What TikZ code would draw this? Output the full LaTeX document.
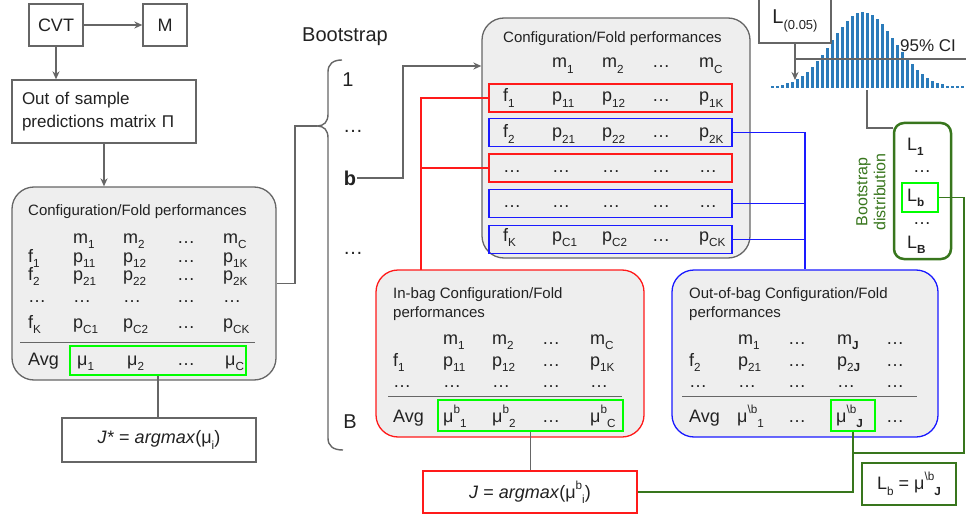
\documentclass[tikz,border=0pt]{standalone}
\usepackage{fontspec}
\setmainfont{Liberation Sans}
\usepackage{graphicx}
\usetikzlibrary{arrows.meta,calc}
\definecolor{tx}{HTML}{222222}
\definecolor{ln}{HTML}{666666}
\definecolor{fillg}{HTML}{EEEEEE}
\definecolor{dgreen}{HTML}{38761D}
\definecolor{bgreen}{HTML}{00FF00}
\definecolor{hblue}{HTML}{2B7BBA}
\definecolor{rd}{HTML}{FF1A1A}
\definecolor{bl}{HTML}{1A1AFF}
\newcommand\sbs[1]{\raisebox{-0.3em}{\scalebox{0.65}{#1}}}
\newcommand\sps[1]{\raisebox{0.5em}{\scalebox{0.65}{#1}}}
\newcommand\fsz[1]{\fontsize{#1}{#1}\selectfont}
\newcommand\cl[4]{\node[cell] (#1) at (#2,#3) {#4};}
\tikzset{
  every node/.style={text=tx},
  plainbox/.style={draw=ln, line width=1.3pt, fill=white, inner sep=0pt},
  graybox/.style={draw=ln, fill=fillg, rounded corners=22pt, line width=1.3pt, inner sep=0pt},
  rowbox/.style={line width=1.1pt, inner sep=0pt, minimum width=243pt, minimum height=28pt},
  greenbox/.style={draw=bgreen, line width=1.5pt, inner sep=0pt},
  cell/.style={anchor=base west, inner sep=0pt, font=\fsz{18}},
  ttl/.style={anchor=base west, inner sep=0pt, font=\fsz{15}},
  conn/.style={draw=ln, line width=1.4pt},
  arr/.style={conn, -{Stealth[length=8pt,width=7pt]}},
  sep/.style={draw=ln, line width=1pt},
}
\begin{document}
\begin{tikzpicture}[x=1pt,y=-1pt]
\useasboundingbox (0,0) rectangle (966,516);

% ---------- left column ----------
\node[plainbox, minimum width=54pt, minimum height=42pt, font=\fsz{18}] (cvt) at (56,25) {CVT};
\node[plainbox, minimum width=44pt, minimum height=42pt, font=\fsz{18}] (m) at (165,25) {M};
\node[plainbox, text width=164pt, inner sep=10pt, minimum height=63pt, align=left, font=\fontsize{17}{23}\selectfont] (out) at (104,111.5) {Out of sample\\predictions matrix Π};
\draw[arr] (cvt.east) -- (m.west);
\draw[arr] (cvt.south) -- (cvt.south |- out.north);

\node[graybox, minimum width=264pt, minimum height=193pt] (L) at (144,283.5) {};
\draw[arr] (out.south) -- (out.south |- L.north);
\node[ttl] (a-title) at (28,215) {Configuration/Fold performances};
\cl{a-m1}{73}{243}{m\sbs{1}}\cl{a-m2}{123}{243}{m\sbs{2}}\cl{a-m3}{177}{243}{…}\cl{a-m4}{223}{243}{m\sbs{C}}
\cl{a-f1}{28}{262}{f\sbs{1}}\cl{a-11}{73}{262}{p\sbs{11}}\cl{a-12}{123}{262}{p\sbs{12}}\cl{a-13}{177}{262}{…}\cl{a-14}{223}{262}{p\sbs{1K}}
\cl{a-f2}{28}{280}{f\sbs{2}}\cl{a-21}{73}{280}{p\sbs{21}}\cl{a-22}{123}{280}{p\sbs{22}}\cl{a-23}{177}{280}{…}\cl{a-24}{223}{280}{p\sbs{2K}}
\cl{a-d0}{28}{302}{…}\cl{a-d1}{73}{302}{…}\cl{a-d2}{123}{302}{…}\cl{a-d3}{177}{302}{…}\cl{a-d4}{223}{302}{…}
\cl{a-fK}{28}{328}{f\sbs{K}}\cl{a-K1}{73}{328}{p\sbs{C1}}\cl{a-K2}{123}{328}{p\sbs{C2}}\cl{a-K3}{177}{328}{…}\cl{a-K4}{223}{328}{p\sbs{CK}}
\cl{a-avg}{28}{365}{Avg}\cl{a-u1}{77}{365}{μ\sbs{1}}\cl{a-u2}{127}{365}{μ\sbs{2}}\cl{a-u3}{177}{365}{…}\cl{a-u4}{225}{365}{μ\sbs{C}}
\coordinate (a-s1) at (20,342); \coordinate (a-s2) at (255,342);
\draw[sep] (a-s1) -- (a-s2);
\node[greenbox, minimum width=176pt, minimum height=29pt] (Lg) at (158,360.5) {};
\node[plainbox, minimum width=194pt, minimum height=44pt, font=\fsz{18}] (Jstar) at (159,440) {\textit{J*} = \textit{argmax}(μ\sbs{i})};
\draw[conn] (Lg.south) -- (Lg.south |- Jstar.north);

% ---------- bootstrap brace ----------
\node[anchor=center, inner sep=0pt, font=\fsz{20}] (boot) at (345,37) {Bootstrap};
\coordinate (brtip) at (317,126);
\draw[conn] (342,60) .. controls (333,60) and (328,64) .. (328,72) -- (328,114)
  .. controls (328,122) and (324,126) .. (brtip)
  .. controls (324,126) and (328,130) .. (328,138) -- (328,438)
  .. controls (328,446) and (333,450) .. (343,450);
\coordinate (bk) at (295,126);
\draw[conn] (L.east) -| (bk) -- (brtip);
\node[inner sep=0pt, font=\fsz{20}] (lab1) at (348,80) {1};
\node[inner sep=0pt, font=\fsz{20}] (labd1) at (353,131) {…};
\node[inner sep=1pt, font=\fsz{20}\bfseries] (labb) at (350,178) {b};
\node[inner sep=0pt, font=\fsz{20}] (labd2) at (353,253) {…};
\node[inner sep=0pt, font=\fsz{20}] (labB) at (350,422) {B};

% ---------- top box ----------
\node[graybox, minimum width=268pt, minimum height=240pt] (T) at (616,138) {};
\coordinate (bturn) at (403,66);
\draw[arr] (labb.east) -| (bturn) -- (bturn -| T.west);
\node[ttl] (t-title) at (503,43) {Configuration/Fold performances};
\node[rowbox, draw=rd] (r1) at (610.5,98) {};
\node[rowbox, draw=bl] (r2) at (610.5,132.5) {};
\node[rowbox, draw=rd] (r3) at (610.5,168) {};
\node[rowbox, draw=bl] (r4) at (610.5,203.5) {};
\node[rowbox, draw=bl] (r5) at (610.5,239.5) {};
\cl{t-m1}{552}{68}{m\sbs{1}}\cl{t-m2}{602}{68}{m\sbs{2}}\cl{t-m3}{652}{68}{…}\cl{t-m4}{699}{68}{m\sbs{C}}
\cl{t-f1}{503}{102}{f\sbs{1}}\cl{t-11}{552}{102}{p\sbs{11}}\cl{t-12}{602}{102}{p\sbs{12}}\cl{t-13}{652}{102}{…}\cl{t-14}{699}{102}{p\sbs{1K}}
\cl{t-f2}{503}{138}{f\sbs{2}}\cl{t-21}{552}{138}{p\sbs{21}}\cl{t-22}{602}{138}{p\sbs{22}}\cl{t-23}{652}{138}{…}\cl{t-24}{699}{138}{p\sbs{2K}}
\cl{t-x0}{503}{172}{…}\cl{t-x1}{552}{172}{…}\cl{t-x2}{602}{172}{…}\cl{t-x3}{652}{172}{…}\cl{t-x4}{699}{172}{…}
\cl{t-y0}{503}{207}{…}\cl{t-y1}{552}{207}{…}\cl{t-y2}{602}{207}{…}\cl{t-y3}{652}{207}{…}\cl{t-y4}{699}{207}{…}
\cl{t-fK}{503}{241}{f\sbs{K}}\cl{t-K1}{552}{241}{p\sbs{C1}}\cl{t-K2}{602}{241}{p\sbs{C2}}\cl{t-K3}{652}{241}{…}\cl{t-K4}{699}{241}{p\sbs{CK}}

% ---------- in-bag ----------
\node[graybox, draw=rd, minimum width=268pt, minimum height=167pt] (I) at (510,353.5) {};
\node[ttl] (i-title1) at (393,298) {In-bag Configuration/Fold};
\node[ttl] (i-title2) at (393,317) {performances};
\cl{i-m1}{443}{344}{m\sbs{1}}\cl{i-m2}{492}{344}{m\sbs{2}}\cl{i-m3}{542}{344}{…}\cl{i-m4}{590}{344}{m\sbs{C}}
\cl{i-f1}{393}{366}{f\sbs{1}}\cl{i-11}{443}{366}{p\sbs{11}}\cl{i-12}{492}{366}{p\sbs{12}}\cl{i-13}{542}{366}{…}\cl{i-14}{590}{366}{p\sbs{1K}}
\cl{i-d0}{393}{387}{…}\cl{i-d1}{443}{387}{…}\cl{i-d2}{492}{387}{…}\cl{i-d3}{542}{387}{…}\cl{i-d4}{590}{387}{…}
\cl{i-avg}{393}{422}{Avg}\cl{i-u1}{443}{422}{μ\sps{b}\sbs{1}}\cl{i-u2}{492}{422}{μ\sps{b}\sbs{2}}\cl{i-u3}{542}{422}{…}\cl{i-u4}{590}{422}{μ\sps{b}\sbs{C}}
\coordinate (i-s1) at (388,396); \coordinate (i-s2) at (622,396);
\draw[sep] (i-s1) -- (i-s2);
\node[greenbox, minimum width=185pt, minimum height=31pt] (Ig) at (530.5,415.5) {};
\node[plainbox, draw=rd, minimum width=214pt, minimum height=42pt, font=\fsz{18}] (J) at (530,492) {\textit{J} = \textit{argmax}(μ\sps{b}\sbs{i})};
\draw[conn] (Ig.south) -- (Ig.south |- J.north);

% red connectors
\coordinate (rv) at (421,270);
\draw[rd, line width=1.8pt] (r1.west) -| (rv);
\draw[rd, line width=1.8pt] (r3.west) -- (r3.west -| rv);

% ---------- out-of-bag ----------
\node[graybox, draw=bl, minimum width=266pt, minimum height=167pt] (O) at (805,353.5) {};
\node[ttl] (o-title1) at (689,298) {Out-of-bag Configuration/Fold};
\node[ttl] (o-title2) at (689,317) {performances};
\cl{o-m1}{738}{344}{m\sbs{1}}\cl{o-m2}{788}{344}{…}\cl{o-m3}{837}{344}{m\sbs{\bfseries J}}\cl{o-m4}{886}{344}{…}
\cl{o-f2}{689}{366}{f\sbs{2}}\cl{o-21}{738}{366}{p\sbs{21}}\cl{o-22}{788}{366}{…}\cl{o-23}{837}{366}{p\sbs{2\bfseries J}}\cl{o-24}{886}{366}{…}
\cl{o-d0}{689}{387}{…}\cl{o-d1}{738}{387}{…}\cl{o-d2}{788}{387}{…}\cl{o-d3}{837}{387}{…}\cl{o-d4}{886}{387}{…}
\cl{o-avg}{689}{422}{Avg}\cl{o-u1}{737}{422}{μ\sps{\textbackslash b}\sbs{1}}\cl{o-u2}{788}{422}{…}\cl{o-u3}{836}{422}{μ\sps{\textbackslash b}\sbs{\bfseries J}}\cl{o-u4}{886}{422}{…}
\coordinate (o-s1) at (682,396); \coordinate (o-s2) at (917,396);
\draw[sep] (o-s1) -- (o-s2);
\node[greenbox, minimum width=44pt, minimum height=31pt] (Og) at (853,415.5) {};

% blue connectors
\draw[bl, line width=1.8pt] (r2.east) -| (O.north);
\draw[bl, line width=1.8pt] (r4.east) -- (r4.east -| O.north);
\draw[bl, line width=1.8pt] (r5.east) -- (r5.east -| O.north);

% ---------- histogram ----------
\foreach \i in {0,...,38} {
  \pgfmathsetmacro\xx{772+5*\i}
  \pgfmathsetmacro\hh{max(1.5,76*exp(-((\xx-863)/32)^2/2))}
  \fill[hblue] (\xx-1.5,88) rectangle (\xx+1.5,88-\hh);
}
\node[plainbox, minimum width=72pt, minimum height=45pt, font=\fsz{20}] (L005) at (795,20.5) {L\sbs{(0.05)}};
\coordinate (ltip) at (795,80);
\coordinate (ci) at (966,59);
\draw[conn] (L005.south |- ci) -- (ci);
\draw[arr] (L005.south) -- (ltip);
\node[inner sep=0pt, font=\fsz{17}] (ci95) at (928,46) {95\% CI};

% ---------- bootstrap distribution ----------
\node[draw=dgreen, line width=2.5pt, rounded corners=10pt, minimum width=57pt, minimum height=136pt, inner sep=0pt] (D) at (922.5,191) {};
\coordinate (hb) at (867,90);
\draw[conn] (hb) |- (D.west |- 0,128);
\node[rotate=90, align=center, text=dgreen, font=\fontsize{16}{18}\selectfont, inner sep=0pt] (bdist) at (871,192) {Bootstrap\\distribution};
\cl{d-L1}{907}{150}{L\sbs{\bfseries 1}}
\node[inner sep=0pt, font=\fsz{18}] (d-d1) at (922,172) {…};
\node[greenbox, minimum width=36pt, minimum height=29pt] (Lbg) at (920,197.5) {};
\cl{d-Lb}{907}{201}{L\sbs{\bfseries b}}
\node[inner sep=0pt, font=\fsz{18}] (d-d2) at (922,224) {…};
\cl{d-LB}{907}{248}{L\sbs{\bfseries B}}

\node[plainbox, draw=dgreen, line width=1.8pt, minimum width=94pt, minimum height=42pt, font=\fsz{18}] (LbEq) at (909,484) {L\sbs{b} = μ\sps{\textbackslash b}\sbs{\bfseries J}};

% green connectors
\coordinate (gk) at (853,453);
\coordinate (gr) at (964,453);
\draw[dgreen, line width=1.5pt] (Og.south) -- (gk) -- (gr) |- (Lbg.east);
\draw[dgreen, line width=1.5pt] (J.east) -| (Og.south);
\end{tikzpicture}
\end{document}
